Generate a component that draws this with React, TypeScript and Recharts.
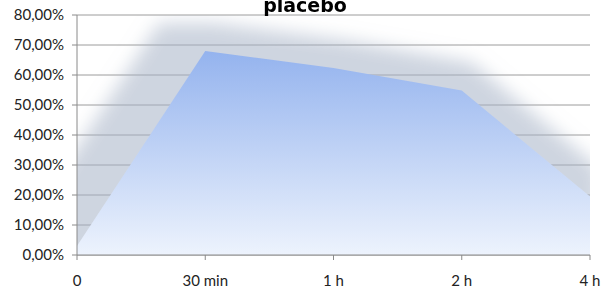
import { AreaChart, Area, XAxis, YAxis, CartesianGrid } from 'recharts';

const categories = ['0', '30 min', '1 h', '2 h', '4 h'];
const placebo = [0.03, 0.68, 0.623, 0.548, 0.195];
const yTicks = [0, 0.1, 0.2, 0.3, 0.4, 0.5, 0.6, 0.7, 0.8];

const data = categories.map((time, i) => ({ time, placebo: placebo[i] }));

const pct = (v: number) => (v * 100).toFixed(2).replace('.', ',') + '%';

// plot box (same as chart margins + axis sizes below)
const plot = { left: 77, top: 15, right: 590, bottom: 255 };

export default function App() {
  return (
    <div style={{ position: 'fixed', left: 0, top: 0, width: 602, height: 288, background: '#fff' }}>
      <style>{`
        .shadowed .recharts-area-area { filter: url(#areaShadow); }
        .shadowed .recharts-area { clip-path: url(#plotClip); }
      `}</style>
      <svg width={0} height={0} style={{ position: 'absolute' }}>
        <defs>
          <clipPath id="plotClip" clipPathUnits="userSpaceOnUse">
            <rect x={plot.left} y={plot.top} width={plot.right - plot.left} height={plot.bottom - plot.top} />
          </clipPath>
          <filter id="areaShadow" x="-40%" y="-60%" width="180%" height="220%">
            <feMorphology in="SourceAlpha" operator="dilate" radius={28} result="big" />
            <feOffset in="big" dx={-18} dy={0} result="moved" />
            <feGaussianBlur in="moved" stdDeviation={9} result="blur" />
            <feFlood floodColor="#a6b2c6" floodOpacity={0.55} />
            <feComposite in2="blur" operator="in" result="shadow" />
            <feMerge>
              <feMergeNode in="shadow" />
              <feMergeNode in="SourceGraphic" />
            </feMerge>
          </filter>
        </defs>
      </svg>
      <div
        style={{
          position: 'absolute', left: 4, top: 5, width: 602, textAlign: 'center',
          fontFamily: 'DejaVu Sans', fontWeight: 'bold', fontSize: 19, lineHeight: 0, zIndex: 2,
        }}
      >
        placebo
      </div>
      <AreaChart
        className="shadowed"
        width={602}
        height={288}
        data={data}
        margin={{ top: 15, right: 12, bottom: 3, left: 3 }}
      >
        <defs>
          <linearGradient id="blueFill" x1="0" y1="0" x2="0" y2="1">
            <stop offset="0%" stopColor="#94b3ee" />
            <stop offset="100%" stopColor="#edf3fd" />
          </linearGradient>
        </defs>
        <CartesianGrid vertical={false} stroke="#9c9c9c" />
        <XAxis
          dataKey="time"
          height={30}
          stroke="#8a8a8a"
          tickSize={5}
          tickMargin={15}
          tick={{ fill: '#222', fontSize: 15, fontFamily: 'Lato' }}
        />
        <YAxis
          width={74}
          domain={[0, 0.8]}
          ticks={yTicks}
          allowDataOverflow
          tickFormatter={pct}
          stroke="#8a8a8a"
          tickSize={5}
          tickMargin={8}
          tick={{ fill: '#222', fontSize: 15, fontFamily: 'Lato' }}
        />
        <Area
          type="linear"
          dataKey="placebo"
          stroke="none"
          fill="url(#blueFill)"
          fillOpacity={1}
          isAnimationActive={false}
        />
      </AreaChart>
    </div>
  );
}
